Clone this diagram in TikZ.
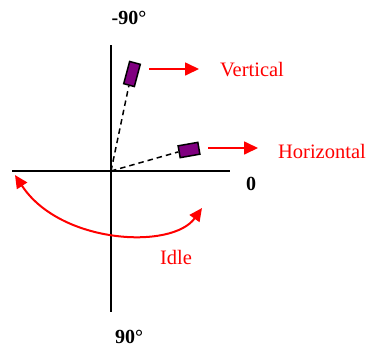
\documentclass[tikz,border=0pt]{standalone}
\usepackage{fontspec}
\setmainfont{Liberation Serif}
\usetikzlibrary{positioning,arrows.meta}
\definecolor{idlered}{HTML}{FF0000}
\definecolor{sensor}{HTML}{800080}

\tikzset{
  axis/.style={line width=2.7pt,black},
  ray/.style={line width=1.5pt,dash pattern=on 5.5pt off 4pt},
  sensorbox/.style={draw=black,fill=sensor,line width=1.5pt,minimum width=#1,inner sep=0pt},
  pointer/.style={idlered,line width=1.7pt,-{Triangle[length=14pt,width=13pt]}},
  redlabel/.style={text=idlered,font=\fontsize{20.5}{24}\selectfont},
  anglabel/.style={font=\fontsize{20}{24}\selectfont\bfseries}
}

\begin{document}
\begin{tikzpicture}[x=1pt, y=-1pt]
\useasboundingbox (0,0) rectangle (369,349);
% axes
\coordinate (O) at (111,171);
\draw[axis] (111,45) -- (111,312);
\draw[axis] (12,171) -- (230,171);
\node[anglabel] (up) at (129,18) {-90\textdegree};
\node[anglabel] (down) at (129,337) {90\textdegree};
\node[anglabel] (zero) at (251,184) {0};
% sensor positions
\node[sensorbox=11pt,minimum height=23pt,rotate=-15] (vrect) at (132,74) {};
\node[sensorbox=20pt,minimum height=12pt,rotate=10] (hrect) at (189,150) {};
\draw[ray] (O) -- (vrect.south);
\draw[ray] (O) -- (hrect.west);
% labels and pointers
\node[redlabel] (vlabel) at (252,70) {Vertical};
\node[redlabel] (hlabel) at (322,151) {Horizontal};
\node[redlabel] (ilabel) at (176,257) {Idle};
\coordinate (vstart) at (149,69);
\coordinate (hstart) at (208,148);
\draw[pointer] (vstart) -- (vstart -| {(199,0)});
\draw[pointer] (hstart) -- (hstart -| {(258,0)});
% idle swing
\coordinate (ileft) at (15,175);
\coordinate (iright) at (202,208);
\draw[idlered,line width=2pt,{Triangle[length=13pt,width=12pt]}-{Triangle[length=13pt,width=12pt]}]
  (ileft) .. controls (60,244) and (172,250) .. (iright);
\end{tikzpicture}
\end{document}
